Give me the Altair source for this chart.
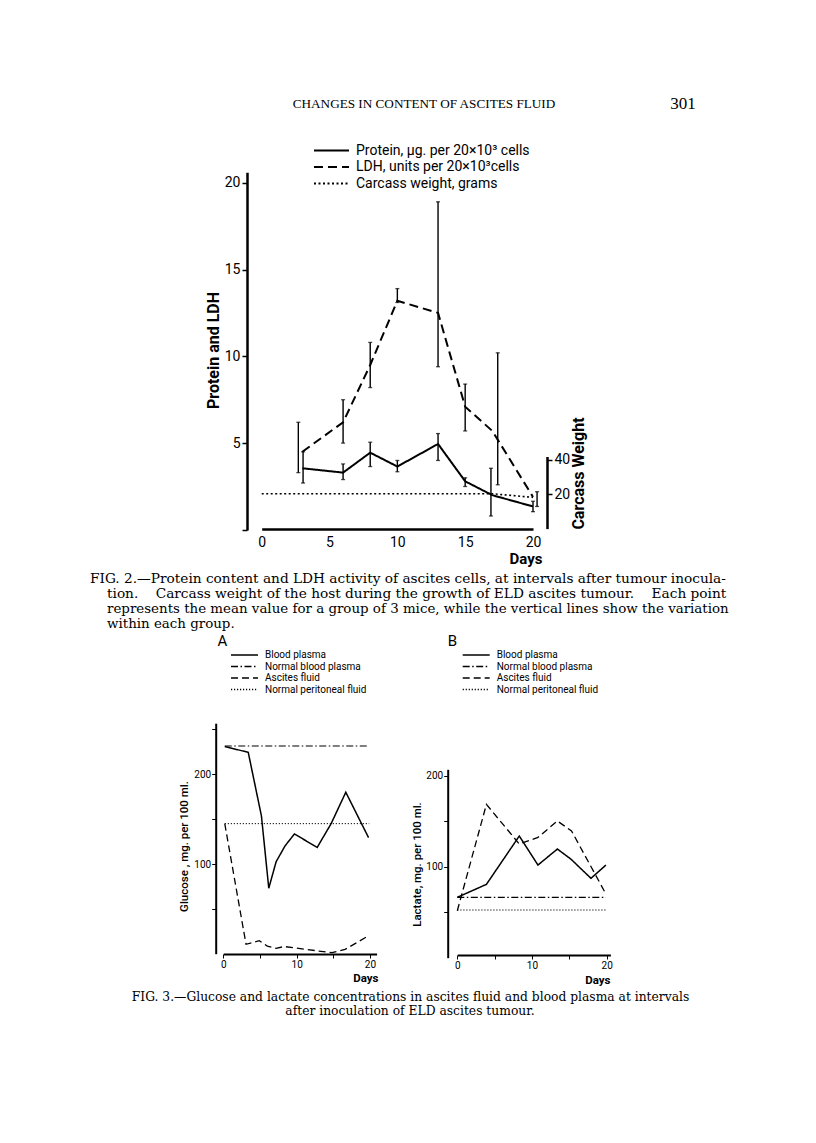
import altair as alt
import pandas as pd

# ---------------- Fig. 2 data ----------------
F2_SERIES = ["Protein, µg. per 20×10³ cells", "LDH, units per 20×10³cells", "Carcass  weight, grams"]
days2 = [3, 6, 8, 10, 13, 15, 17, 20]
ldh_mean = [4.5, 6.2, 9.5, 13.2, 12.5, 7.1, 5.7, 1.9]
ldh_low = [3.3, 5.0, 8.2, 13.1, 9.4, 5.7, 2.6, 1.35]
ldh_high = [6.2, 7.5, 10.8, 13.9, 18.9, 8.4, 10.2, 2.2]
ldh_bar_day = [2.7, 6.0, 8.0, 10.0, 13.0, 15.0, 17.4, 20.3]
protein_mean = [3.55, 3.3, 4.45, 3.65, 4.95, 2.8, 2.0, 1.35]
protein_low = [2.7, 2.9, 3.65, 3.35, 4.0, 2.5, 0.8, 1.05]
protein_high = [4.5, 3.8, 5.05, 4.0, 5.55, 3.0, 3.55, 1.65]
protein_bar_day = [3.05, 6.0, 8.0, 10.0, 13.0, 15.0, 16.9, 20.0]
carcass_day = [0, 17, 20]
carcass_g = [20.3, 20.3, 18.2]
f2_x_ticks = [0, 5, 10, 15, 20]
f2_y_ticks = [0, 5, 10, 15, 20]
f2_c_ticks = [20, 40]

# ---------------- Fig. 3 data ----------------
F3_SERIES = ["Blood plasma", "Normal blood plasma", "Ascites fluid", "Normal peritoneal fluid"]
glu_bp_day = [0.2, 3.4, 5.2, 6.2, 7.2, 8.4, 9.7, 12.8, 14.7, 16.7, 19.8]
glu_bp = [231, 224.5, 153.5, 73, 102.5, 120, 133.5, 118.5, 145, 180, 129.5]
glu_nbp_day = [0.2, 19.9]
glu_nbp = [231.5, 231.5]
glu_asc_day = [0.2, 3.1, 4.9, 6.0, 7.2, 8.3, 10.0, 12.7, 14.8, 16.6, 19.8]
glu_asc = [145, 10.5, 14.5, 8.5, 6.0, 8.0, 6.3, 3.3, 1.1, 4.8, 20]
glu_npf_day = [0.2, 19.9]
glu_npf = [145, 145]

lac_bp_day = [0, 3.9, 8.3, 10.8, 13.4, 15.2, 17.9, 19.9]
lac_bp = [66.3, 80.6, 133.7, 101.8, 119.4, 108.4, 87.2, 101.8]
lac_nbp_day = [0, 19.9]
lac_nbp = [66.3, 66.3]
lac_asc_day = [0, 3.9, 8.3, 10.8, 13.4, 15.3, 19.9]
lac_asc = [51.6, 168.5, 124.9, 132.2, 150.2, 139.2, 70]
lac_npf_day = [0, 19.9]
lac_npf = [52.4, 52.4]
f3_x_ticks = [0, 5, 10, 15, 20]
glu_y_ticks = [50, 100, 150, 200, 250]
lac_y_ticks = [50, 100, 150, 200]

# ---------------- texts ----------------
NB = "\u00a0"
HEADER = "CHANGES IN CONTENT OF ASCITES FLUID"
PAGE_NO = "301"
CAP2 = [
    "FIG. 2.—Protein content and LDH activity of ascites cells, at intervals after tumour inocula-",
    "tion." + NB * 4 + "Carcass weight of the host during the growth of ELD ascites tumour." + NB * 4 + "Each point",
    "represents the mean value for a group of 3 mice, while the vertical lines show the variation",
    "within each group.",
]
CAP3 = [
    "FIG. 3.—Glucose and lactate concentrations in ascites fluid and blood plasma at intervals",
    "after inoculation of ELD ascites tumour.",
]

W, H = 800, 1100
SANS = "Roboto"
SERIF = "DejaVu Serif"


def txt(s, x, y, size=12.5, font=SERIF, weight="normal", align="left"):
    return alt.Chart(pd.DataFrame({"t": [s]})).mark_text(
        align=align, baseline="alphabetic", fontSize=size, font=font,
        fontWeight=weight, color="black"
    ).encode(x=alt.value(x), y=alt.value(y), text="t:N")


# ---------------- Fig. 2 ----------------
X2 = alt.Scale(domain=[0, 20], range=[253.7, 525], nice=False, zero=False)
Y2 = alt.Scale(domain=[0, 20.6], range=[521.9, 164.3], nice=False, zero=False)
YC = alt.Scale(domain=[0, 42], range=[520.6, 448.5], nice=False, zero=False)
DASH2 = alt.Scale(domain=F2_SERIES, range=[[1, 0], [9, 5], [2, 2.5]])

leg2 = alt.Legend(orient="none", legendX=305, legendY=135, title=None,
                  symbolType="stroke", symbolSize=1225, symbolStrokeWidth=2,
                  symbolStrokeColor="black", labelFont=SANS, labelFontSize=14,
                  labelColor="black", labelOffset=6, rowPadding=1.5,
                  clipHeight=15, padding=0, labelLimit=400)

ax2x = alt.Axis(orient="bottom", offset=521 - H, values=f2_x_ticks, ticks=False,
                domainWidth=2.5, labelFont=SANS, labelFontSize=14, labelPadding=6,
                title="Days", titleFont=SANS, titleFontSize=15, titleFontWeight="bold",
                titleX=534, titleY=34, titleAlign="right", titleBaseline="alphabetic",
                labelFlush=False, grid=False)
ax2y = alt.Axis(orient="left", offset=-239, values=f2_y_ticks,
                labelExpr="datum.value == 0 ? '' : datum.label",
                tickSize=5, tickWidth=1.5, domainWidth=2.5, labelFont=SANS,
                labelFontSize=14, labelPadding=2, title="Protein and LDH",
                titleFont=SANS, titleFontSize=16, titleFontWeight="bold",
                titleAngle=270, titleX=-34, titleY=342, titleAlign="center",
                titleBaseline="middle", grid=False)
axc = alt.Axis(orient="right", offset=539 - W, values=f2_c_ticks, tickSize=5,
               tickWidth=1.5, domainWidth=2.5, labelFont=SANS, labelFontSize=14,
               labelPadding=2, title="Carcass Weight", titleFont=SANS,
               titleFontSize=16, titleFontWeight="bold", titleAngle=270,
               titleX=31, titleY=465, titleAlign="center", titleBaseline="middle",
               grid=False)

df_lines2 = pd.DataFrame({
    "day": days2 + days2,
    "value": protein_mean + ldh_mean,
    "series": [F2_SERIES[0]] * len(days2) + [F2_SERIES[1]] * len(days2),
})
df_err2 = pd.DataFrame({
    "day": protein_bar_day + ldh_bar_day,
    "value": protein_low + ldh_low,
    "high": protein_high + ldh_high,
})
df_caps2 = pd.DataFrame({
    "day": protein_bar_day * 2 + ldh_bar_day * 2,
    "value": protein_low + protein_high + ldh_low + ldh_high,
})
df_carc = pd.DataFrame({"day": carcass_day, "g": carcass_g,
                        "series": [F2_SERIES[2]] * len(carcass_day)})

x2 = alt.X("day:Q", scale=X2, axis=ax2x)
y2 = alt.Y("value:Q", scale=Y2, axis=ax2y)

lines2 = alt.Chart(df_lines2).mark_line(color="black", strokeWidth=2).encode(
    x=x2, y=y2,
    strokeDash=alt.StrokeDash("series:N", scale=DASH2, legend=leg2),
)
err2 = alt.Chart(df_err2).mark_rule(color="black", strokeWidth=1.4).encode(
    x=x2, y=y2, y2="high:Q",
)
caps2 = alt.Chart(df_caps2).mark_tick(orient="horizontal", size=4, thickness=1.3,
                                      color="black").encode(x=x2, y=y2)
carc = alt.Chart(df_carc).mark_line(color="black", strokeWidth=1.6).encode(
    x=x2,
    y=alt.Y("g:Q", scale=YC, axis=axc),
    strokeDash=alt.StrokeDash("series:N", scale=DASH2, legend=leg2),
)
fig2 = alt.layer(alt.layer(lines2, err2, caps2), carc).resolve_scale(y="independent")


# ---------------- Fig. 3 ----------------
DASH3 = alt.Scale(domain=F3_SERIES,
                  range=[[1, 0], [7, 2.5, 1.5, 2.5], [7, 4], [1.2, 1.8]])


def leg3(x):
    return alt.Legend(orient="none", legendX=x, legendY=641.5, title=None,
                      symbolType="stroke", symbolSize=729, symbolStrokeWidth=1.3,
                      symbolStrokeColor="black", labelFont=SANS, labelFontSize=10,
                      labelColor="black", labelOffset=6, rowPadding=0.5,
                      clipHeight=11, padding=0, labelLimit=300)


def fig3(series_data, xscale, yscale, xaxis, yaxis, legend):
    layers = []
    for name, d, v, sw in series_data:
        df = pd.DataFrame({"day": d, "v": v, "series": [name] * len(d)})
        layers.append(alt.Chart(df).mark_line(color="black", strokeWidth=sw).encode(
            x=alt.X("day:Q", scale=xscale, axis=xaxis),
            y=alt.Y("v:Q", scale=yscale, axis=yaxis),
            strokeDash=alt.StrokeDash("series:N", scale=DASH3, legend=legend),
        ))
    return alt.layer(*layers)


X3A = alt.Scale(domain=[0, 20.9], range=[215.3, 368.6], nice=False, zero=False)
Y3A = alt.Scale(domain=[0, 257], range=[945.7, 715.2], nice=False, zero=False)
X3B = alt.Scale(domain=[0, 20.5], range=[449.3, 602.4], nice=False, zero=False)
Y3B = alt.Scale(domain=[0, 207], range=[949.7, 761.3], nice=False, zero=False)


def xaxis3(offset, title_x, title_y):
    return alt.Axis(orient="bottom", offset=offset, values=f3_x_ticks,
                    labelExpr="datum.value % 10 == 0 ? datum.label : ''",
                    tickSize=4, tickWidth=1, domainWidth=2, labelFont=SANS,
                    labelFontSize=10, labelPadding=1, title="Days", titleFont=SANS,
                    titleFontSize=11.5, titleFontWeight="bold", titleX=title_x,
                    titleY=title_y, titleAlign="right", titleBaseline="alphabetic",
                    labelFlush=False, grid=False)


def yaxis3(offset, values, title, title_x, title_y):
    return alt.Axis(orient="left", offset=offset, values=values,
                    labelExpr="datum.value % 100 == 0 ? datum.label : ''",
                    tickSize=4, tickWidth=1, domainWidth=2, labelFont=SANS,
                    labelFontSize=10, labelPadding=1, title=title, titleFont=SANS,
                    titleFontSize=11.5, titleFontWeight=500, titleAngle=270,
                    titleX=title_x, titleY=title_y, titleAlign="center",
                    titleBaseline="middle", grid=False)


fig3a = fig3(
    [(F3_SERIES[0], glu_bp_day, glu_bp, 1.5),
     (F3_SERIES[1], glu_nbp_day, glu_nbp, 1.1),
     (F3_SERIES[2], glu_asc_day, glu_asc, 1.3),
     (F3_SERIES[3], glu_npf_day, glu_npf, 1.0)],
    X3A, Y3A,
    xaxis3(946 - H, 370, 27),
    yaxis3(-207.7, glu_y_ticks, "Glucose , mg. per 100 ml.", -31.5, 838),
    leg3(222),
)
fig3b = fig3(
    [(F3_SERIES[0], lac_bp_day, lac_bp, 1.5),
     (F3_SERIES[1], lac_nbp_day, lac_nbp, 1.1),
     (F3_SERIES[2], lac_asc_day, lac_asc, 1.3),
     (F3_SERIES[3], lac_npf_day, lac_npf, 1.0)],
    X3B, Y3B,
    xaxis3(947 - H, 602, 28),
    yaxis3(-439.7, lac_y_ticks, "Lactate, mg. per 100 ml.", -30.5, 856),
    leg3(453.7),
)

# ---------------- texts ----------------
texts = [
    txt(HEADER, 416, 100, size=13.2, font="Liberation Serif", align="center"),
    txt(PAGE_NO, 675, 101, size=17, font="Liberation Serif", align="center"),
    txt(CAP2[0], 82, 575, size=13.7),
    txt(CAP2[1], 99, 590, size=13.7),
    txt(CAP2[2], 99, 605, size=13.4),
    txt(CAP2[3], 99, 620, size=13.4),
    txt("A", 214.5, 638, size=15, font=SANS, align="center"),
    txt("B", 444.5, 638, size=15, font=SANS, align="center"),
    txt(CAP3[0], 402.5, 993, size=12.3, align="center"),
    txt(CAP3[1], 402, 1007, size=12.3, align="center"),
]

chart = alt.layer(*texts, fig2, fig3a, fig3b).resolve_scale(
    x="independent", y="independent", strokeDash="independent"
).properties(
    width=W, height=H, padding=0,
    autosize=alt.AutoSizeParams(type="none"),
).configure_view(stroke=None).configure_axis(
    domainColor="black", tickColor="black", labelColor="black", titleColor="black",
    grid=False,
)

chart.save("out.html", embed_options={"renderer": "svg", "actions": False})
